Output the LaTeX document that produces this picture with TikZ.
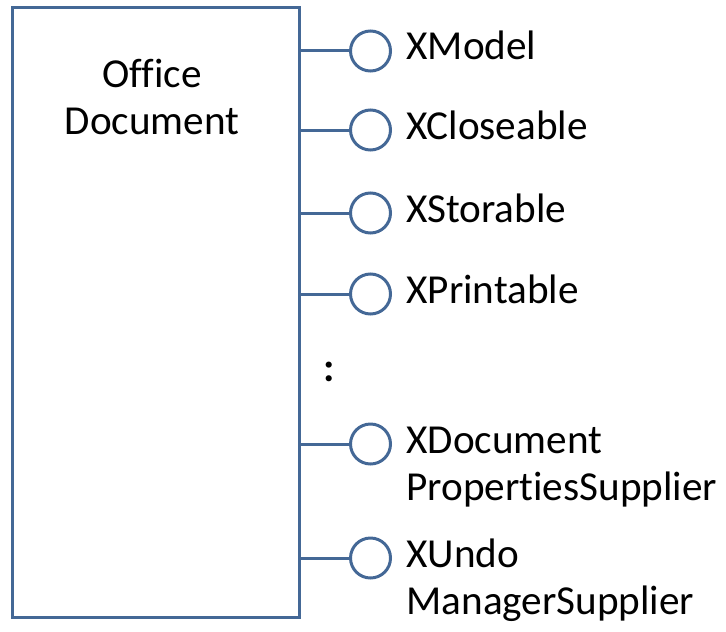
\documentclass[tikz,border=0pt]{standalone}
\usepackage{fontspec}
\setmainfont{Carlito}[Ligatures=NoCommon]
\definecolor{ifaceblue}{RGB}{68,104,150}
\tikzset{
  ifaceline/.style={ifaceblue,line width=1.5pt},
  lollipop/.style={circle,draw=ifaceblue,line width=1.5pt,fill=white,
    minimum size=20pt,inner sep=0pt},
  ifacelabel/.style={anchor=base west,align=left,inner sep=0pt,
    font=\fontsize{20.6}{23.5}\selectfont},
}
\begin{document}
\begin{tikzpicture}[x=0.5pt,y=-0.5pt]
  \useasboundingbox (0,0) rectangle (726,631);
  % component box
  \node[draw=ifaceblue,line width=1.5pt,minimum width=143.5pt,
    minimum height=305pt,inner sep=0pt] (doc) at (155.5,312.5) {};
  % base of a two-line node is its last line
  \node[ifacelabel,align=center,anchor=base] (doctitle) at (152,134)
    {Office\\Document};
  % provided interfaces: name / circle y / last baseline / text
  \foreach \cname/\cy/\by/\ctext in {
      model/51/60/XModel,
      close/130/139/XCloseable,
      store/213/222/XStorable,
      print/294/303/XPrintable,
      props/444/500/{XDocument\\PropertiesSupplier},
      undo/558/614/{XUndo\\ManagerSupplier}}{
    \node[lollipop] (\cname) at (370.5,\cy) {};
    \draw[ifaceline] (\cname -| doc.east) -- (\cname.west);
    \node[ifacelabel] (\cname-lbl) at (406,\by) {\ctext};
  }
  \node[ifacelabel,anchor=center,font=\fontsize{20.6}{23.5}\selectfont\bfseries]
    (more) at (329,372) {:};
\end{tikzpicture}
\end{document}
